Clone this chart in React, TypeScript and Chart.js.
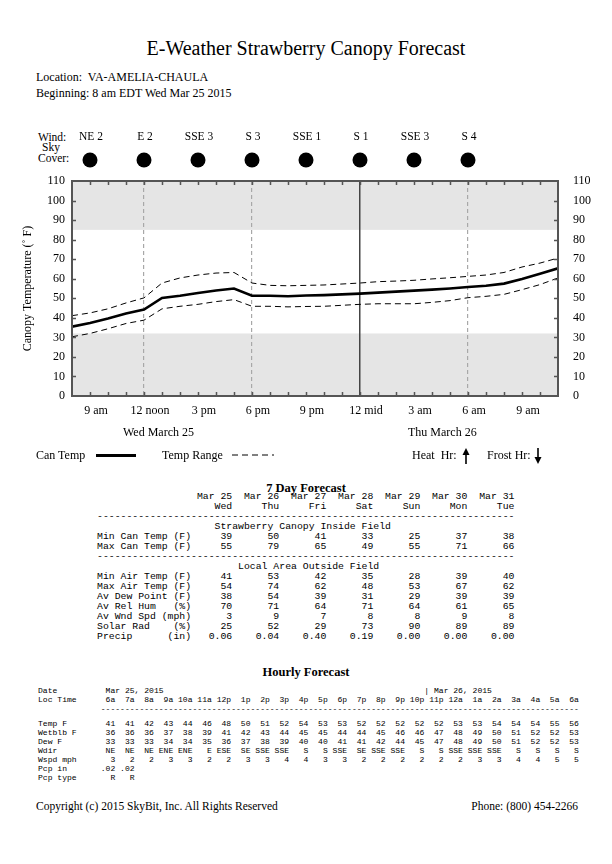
import React, { useEffect, useRef } from 'react';
import { Chart, registerables } from 'chart.js';

Chart.register(...registerables);

// ---------- Chart data (hourly, starting 8 am Wed Mar 25) ----------
const hourIndex = [0, 1, 2, 3, 4, 5, 6, 7, 8, 9, 10, 11, 12, 13, 14, 15, 16, 17, 18, 19, 20, 21, 22, 23, 24, 25, 26, 27];
const canTemp = [35.5, 37.4, 39.6, 42.2, 44.2, 50.2, 51.3, 52.7, 54, 55, 51.3, 51.3, 51, 51.4, 51.6, 52, 52.4, 52.9, 53.4, 53.9, 54.4, 55, 55.8, 56.4, 57.5, 59.9, 62.6, 65.3];
const rangeHigh = [41.1, 42.5, 44.6, 47.6, 50.2, 57.8, 60.4, 61.9, 62.9, 63.2, 57.8, 56.6, 56.4, 56.6, 56.8, 57.3, 57.8, 58.5, 58.8, 59.2, 59.9, 60.5, 61.2, 61.9, 63.2, 66, 68, 70.6];
const rangeLow = [30.3, 32, 34.4, 37.1, 38.8, 44.6, 45.9, 46.9, 48.3, 49.3, 45.9, 45.9, 45.6, 45.8, 45.9, 46.4, 46.9, 47.2, 47.2, 47.2, 47.9, 48.8, 50.3, 51, 52, 54.4, 57, 60.4];

const xTickHours = [1, 4, 7, 10, 13, 16, 19, 22, 25];
const xTickLabels = ['9 am', '12 noon', '3 pm', '6 pm', '9 pm', '12 mid', '3 am', '6 am', '9 am'];
const dashedHours = [4, 10, 22];
const midnightHours = [16];
const grayBands = [[0, 32], [85, 110]];

const windHours = [1, 4, 7, 10, 13, 16, 19, 22];
const windLabels = ['NE 2', 'E 2', 'SSE 3', 'S 3', 'SSE 1', 'S 1', 'SSE 3', 'S 4'];
const skyCover = [100, 100, 100, 100, 100, 100, 100, 100];

// ---------- 7 day forecast ----------
const dayDates = ['Mar 25', 'Mar 26', 'Mar 27', 'Mar 28', 'Mar 29', 'Mar 30', 'Mar 31'];
const dayNames = ['Wed', 'Thu', 'Fri', 'Sat', 'Sun', 'Mon', 'Tue'];
const minCanTemp = ['39', '50', '41', '33', '25', '37', '38'];
const maxCanTemp = ['55', '79', '65', '49', '55', '71', '66'];
const minAirTemp = ['41', '53', '42', '35', '28', '39', '40'];
const maxAirTemp = ['54', '74', '62', '48', '53', '67', '62'];
const avDewPoint = ['38', '54', '39', '31', '29', '39', '39'];
const avRelHum = ['70', '71', '64', '71', '64', '61', '65'];
const avWndSpd = ['3', '9', '7', '8', '8', '9', '8'];
const solarRad = ['25', '52', '29', '73', '90', '89', '89'];
const precip = ['0.06', '0.04', '0.40', '0.19', '0.00', '0.00', '0.00'];

// ---------- Hourly forecast ----------
const hourlyTimes = ['6a', '7a', '8a', '9a', '10a', '11a', '12p', '1p', '2p', '3p', '4p', '5p', '6p', '7p', '8p', '9p', '10p', '11p', '12a', '1a', '2a', '3a', '4a', '5a', '6a'];
const hourlyTemp = ['41', '41', '42', '43', '44', '46', '48', '50', '51', '52', '54', '53', '53', '52', '52', '52', '52', '52', '53', '53', '54', '54', '54', '55', '56'];
const hourlyWetbulb = ['36', '36', '36', '37', '38', '39', '41', '42', '43', '44', '45', '45', '44', '44', '45', '46', '46', '47', '48', '49', '50', '51', '52', '52', '53'];
const hourlyDew = ['33', '33', '33', '34', '34', '35', '36', '37', '38', '39', '40', '40', '41', '41', '42', '44', '45', '47', '48', '49', '50', '51', '52', '52', '53'];
const hourlyWdir = ['NE', 'NE', 'NE', 'ENE', 'ENE', 'E', 'ESE', 'SE', 'SSE', 'SSE', 'S', 'S', 'SSE', 'SE', 'SSE', 'SSE', 'S', 'S', 'SSE', 'SSE', 'SSE', 'S', 'S', 'S', 'S'];
const hourlyWspd = ['3', '2', '2', '3', '3', '2', '2', '3', '3', '4', '4', '3', '3', '2', '2', '2', '2', '2', '2', '3', '3', '4', '4', '5', '5'];
const hourlyPcp = ['.02', '.02'];
const hourlyPcpType = ['R', 'R'];

const SERIF = '"Liberation Serif", "Times New Roman", serif';
const MONO = '"Liberation Mono", "Courier New", monospace';

function dayRow(label: string, unit: string, vals: string[]) {
  const lab = label.padEnd(16 - unit.length) + unit;
  return lab + ' ' + vals.map((v, i) => v.padStart(i === 0 ? 6 : 8)).join('');
}

const sevenDayText = [
  ' '.repeat(17) + dayDates.map((d, i) => d.padStart(i === 0 ? 6 : 8)).join(''),
  ' '.repeat(17) + dayNames.map((d, i) => d.padStart(i === 0 ? 6 : 8)).join(''),
  '-'.repeat(71),
  ' '.repeat(20) + 'Strawberry Canopy Inside Field',
  dayRow('Min Can Temp', '(F)', minCanTemp),
  dayRow('Max Can Temp', '(F)', maxCanTemp),
  '-'.repeat(71),
  ' '.repeat(24) + 'Local Area Outside Field',
  dayRow('Min Air Temp', '(F)', minAirTemp),
  dayRow('Max Air Temp', '(F)', maxAirTemp),
  dayRow('Av Dew Point', '(F)', avDewPoint),
  dayRow('Av Rel Hum', '(%)', avRelHum),
  dayRow('Av Wnd Spd', '(mph)', avWndSpd),
  dayRow('Solar Rad', '(%)', solarRad),
  dayRow('Precip', '(in)', precip),
].join('\n');

function hourRow(label: string, vals: string[]) {
  return label.padEnd(12) + vals.map((v) => v.padStart(4)).join('');
}

const hourlyHeader = [
  ('Date'.padEnd(14) + 'Mar 25, 2015').padEnd(80) + '| Mar 26, 2015',
  hourRow('Loc Time', hourlyTimes),
  ' '.repeat(13) + '-'.repeat(99),
].join('\n');

const hourlyBody = [
  hourRow('Temp F', hourlyTemp),
  hourRow('Wetblb F', hourlyWetbulb),
  hourRow('Dew F', hourlyDew),
  hourRow('Wdir', hourlyWdir),
  hourRow('Wspd mph', hourlyWspd),
  hourRow('Pcp in', hourlyPcp),
  hourRow('Pcp type', hourlyPcpType),
].join('\n');

const decorPlugin = {
  id: 'decor',
  beforeDraw(chart: any) {
    const { ctx, chartArea } = chart;
    const y = chart.scales.y;
    ctx.save();
    ctx.fillStyle = '#e5e5e5';
    grayBands.forEach(([lo, hi]) => {
      const top = y.getPixelForValue(hi);
      const bot = y.getPixelForValue(lo);
      ctx.fillRect(chartArea.left, top, chartArea.right - chartArea.left, bot - top);
    });
    ctx.restore();
  },
  afterDatasetsDraw(chart: any) {
    const { ctx, chartArea } = chart;
    const { left, right, top, bottom } = chartArea;
    const x = chart.scales.x;
    const y = chart.scales.y;
    ctx.save();
    ctx.strokeStyle = '#555';
    ctx.lineWidth = 1.5;
    ctx.beginPath();
    x.ticks.forEach((t: any) => {
      if (t.value > x.min && t.value < x.max) {
        const px = Math.round(x.getPixelForValue(t.value)) + 0.5;
        ctx.moveTo(px, top);
        ctx.lineTo(px, top + 4);
        ctx.moveTo(px, bottom);
        ctx.lineTo(px, bottom - 4);
      }
    });
    y.ticks.forEach((t: any) => {
      if (t.value > y.min && t.value < y.max) {
        const py = Math.round(y.getPixelForValue(t.value)) + 0.5;
        ctx.moveTo(left, py);
        ctx.lineTo(left + 4, py);
        ctx.moveTo(right, py);
        ctx.lineTo(right - 4, py);
      }
    });
    ctx.stroke();
    ctx.lineWidth = 2;
    ctx.strokeRect(left, top, right - left, bottom - top);
    ctx.restore();
  },
  afterDraw(chart: any) {
    const { ctx, chartArea } = chart;
    const x = chart.scales.x;
    ctx.save();
    ctx.fillStyle = '#000';
    ctx.font = '11.5px ' + SERIF;
    ctx.textAlign = 'center';
    ctx.textBaseline = 'middle';
    windHours.forEach((h, i) => {
      const px = x.getPixelForValue(h);
      ctx.fillText(windLabels[i], px + 1, chartArea.top - 44);
      if (skyCover[i] >= 100) {
        ctx.beginPath();
        ctx.arc(px, chartArea.top - 21, 7.5, 0, Math.PI * 2);
        ctx.fill();
      }
    });
    ctx.restore();
  },
};

const abs = (left: number, top: number, extra: any = {}) => ({ position: 'absolute' as const, left, top, whiteSpace: 'pre' as const, ...extra });

export default function App() {
  const ref = useRef<HTMLCanvasElement>(null);

  useEffect(() => {
    const canvas = ref.current!;
    const tickFont = { family: SERIF, size: 12 };
    const chart = new Chart(canvas, {
      type: 'line',
      data: {
        datasets: [
          { label: 'Can Temp', data: canTemp.map((v, i) => ({ x: hourIndex[i], y: v })), borderColor: '#000', borderWidth: 2.6, pointRadius: 0, tension: 0 },
          { label: 'Temp Range High', data: rangeHigh.map((v, i) => ({ x: hourIndex[i], y: v })), borderColor: '#000', borderWidth: 1, borderDash: [6, 4], pointRadius: 0, tension: 0 },
          { label: 'Temp Range Low', data: rangeLow.map((v, i) => ({ x: hourIndex[i], y: v })), borderColor: '#000', borderWidth: 1, borderDash: [6, 4], pointRadius: 0, tension: 0 },
        ],
      },
      options: {
        responsive: false,
        animation: false,
        devicePixelRatio: 1,
        layout: { padding: { top: 61, left: 0, right: 0, bottom: 0 } },
        plugins: { legend: { display: false }, tooltip: { enabled: false } },
        scales: {
          x: {
            type: 'linear',
            min: 0,
            max: 27,
            afterFit: (s: any) => { s.height = 54; },
            grid: {
              drawTicks: false,
              color: (c: any) => {
                const v = c.tick ? c.tick.value : -1;
                if (midnightHours.includes(v)) return '#444';
                if (dashedHours.includes(v)) return '#a8a8a8';
                return 'rgba(0,0,0,0)';
              },
              lineWidth: (c: any) => (c.tick && midnightHours.includes(c.tick.value) ? 1.5 : 1.2),
            },
            border: {
              display: false,
              dash: (c: any) => (c.tick && dashedHours.includes(c.tick.value) ? [4, 3] : []),
            },
            ticks: {
              stepSize: 1,
              autoSkip: false,
              maxRotation: 0,
              padding: 8,
              labelOffset: 6,
              color: '#000',
              font: tickFont,
              callback: (v: any) => {
                const idx = xTickHours.indexOf(Number(v));
                return idx >= 0 ? xTickLabels[idx] : '';
              },
            },
          },
          y: {
            position: 'left',
            min: 0,
            max: 110,
            afterFit: (s: any) => { s.width = 72; },
            grid: { display: false, drawTicks: false, tickLength: 0 },
            border: { display: false },
            ticks: { stepSize: 10, padding: 7, color: '#000', font: tickFont },
            title: { display: true, text: 'Canopy Temperature (\u02DA F)', color: '#000', font: tickFont, padding: { top: 21, bottom: 0 } },
          },
          y2: {
            position: 'right',
            min: 0,
            max: 110,
            afterFit: (s: any) => { s.width = 54; },
            grid: { display: false, drawTicks: false, tickLength: 0 },
            border: { display: false },
            ticks: { stepSize: 10, padding: 15, color: '#000', font: tickFont },
          },
        },
      },
      plugins: [decorPlugin],
    } as any);
    return () => chart.destroy();
  }, []);

  return (
    <div style={{ position: 'absolute', left: 0, top: 0, width: 612, height: 864, background: '#fff', color: '#000', fontFamily: SERIF, overflow: 'hidden' }}>
      <div style={abs(0, 35, { width: 612, textAlign: 'center', fontSize: 20, lineHeight: '26px' })}>E-Weather Strawberry Canopy Forecast</div>
      <div style={abs(36, 70, { fontSize: 12, lineHeight: '14px' })}>Location:  VA-AMELIA-CHAULA</div>
      <div style={abs(36, 86, { fontSize: 12, lineHeight: '14px' })}>Beginning: 8 am EDT Wed Mar 25 2015</div>

      <div style={abs(38, 130, { fontSize: 11.5, lineHeight: '14px' })}>Wind:</div>
      <div style={abs(42, 141, { fontSize: 11.5, lineHeight: '12px' })}>Sky</div>
      <div style={abs(38, 152, { fontSize: 11.5, lineHeight: '12px' })}>Cover:</div>

      <canvas ref={ref} width={612} height={330} style={{ position: 'absolute', left: 0, top: 120, width: 612, height: 330 }} />

      <div style={abs(123, 425, { fontSize: 12, lineHeight: '14px' })}>Wed March 25</div>
      <div style={abs(408, 425, { fontSize: 12, lineHeight: '14px' })}>Thu March 26</div>

      <div style={abs(36, 448, { fontSize: 12, lineHeight: '14px' })}>Can Temp</div>
      <div style={{ position: 'absolute', left: 96, top: 454, width: 40, height: 2.5, background: '#000' }} />
      <div style={abs(162, 448, { fontSize: 12, lineHeight: '14px' })}>Temp Range</div>
      <svg style={{ position: 'absolute', left: 232, top: 450 }} width={42} height={10}>
        <line x1={0} y1={5} x2={42} y2={5} stroke="#000" strokeWidth={1} strokeDasharray="6 4" />
      </svg>
      <div style={abs(412, 448, { fontSize: 12, lineHeight: '14px' })}>Heat  Hr:</div>
      <svg style={{ position: 'absolute', left: 461, top: 447 }} width={10} height={18}>
        <polygon points="5,1 1.5,8 8.5,8" fill="#000" />
        <line x1={5} y1={7} x2={5} y2={17} stroke="#000" strokeWidth={1.6} />
      </svg>
      <div style={abs(487, 448, { fontSize: 12, lineHeight: '14px' })}>Frost Hr:</div>
      <svg style={{ position: 'absolute', left: 533, top: 447 }} width={10} height={18}>
        <line x1={5} y1={1} x2={5} y2={11} stroke="#000" strokeWidth={1.6} />
        <polygon points="5,17 1.5,10 8.5,10" fill="#000" />
      </svg>

      <div style={abs(0, 481, { width: 612, textAlign: 'center', fontSize: 12.5, fontWeight: 'bold', lineHeight: '14px' })}>7 Day Forecast</div>
      <pre style={abs(97, 492, { margin: 0, fontFamily: MONO, fontSize: 9.8, lineHeight: '10px' })}>{sevenDayText}</pre>

      <div style={abs(0, 665, { width: 612, textAlign: 'center', fontSize: 12.5, fontWeight: 'bold', lineHeight: '14px' })}>Hourly Forecast</div>
      <pre style={abs(38, 685.5, { margin: 0, fontFamily: MONO, fontSize: 8.05, lineHeight: '9px' })}>{hourlyHeader}</pre>
      <pre style={abs(38, 718.5, { margin: 0, fontFamily: MONO, fontSize: 8.05, lineHeight: '9px' })}>{hourlyBody}</pre>

      <div style={abs(36, 799, { fontSize: 11.5, lineHeight: '14px' })}>Copyright (c) 2015 SkyBit, Inc. All Rights Reserved</div>
      <div style={abs(0, 799, { width: 578, textAlign: 'right', fontSize: 11.5, lineHeight: '14px' })}>Phone: (800) 454-2266</div>
    </div>
  );
}
